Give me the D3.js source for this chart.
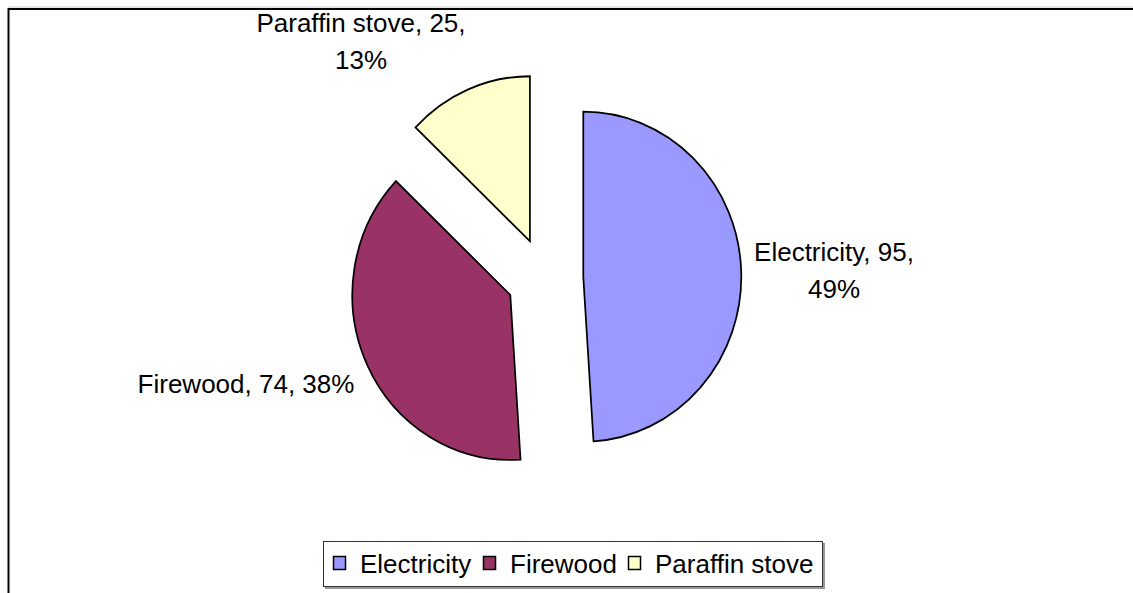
<!DOCTYPE html>
<html>
<head>
<meta charset="utf-8">
<script src="https://cdn.jsdelivr.net/npm/d3@7"></script>
<style>
  body { margin: 0; background: #fff; }
  svg text { font-family: "Liberation Sans", Arial, sans-serif; fill: #000; }
</style>
</head>
<body>
<div id="chart"></div>
<script>
// data
var categories = ["Electricity", "Firewood", "Paraffin stove"];
var values = [95, 74, 25];
var percents = ["49%", "38%", "13%"];
var colors = ["#9999FF", "#993366", "#FFFFCC"];

var width = 1133, height = 593;
var fontSize = 26;

var svg = d3.select("#chart").append("svg")
    .attr("width", width)
    .attr("height", height);

// chart frame (runs off the right and bottom edges)
svg.append("line").attr("x1", 8).attr("y1", 7).attr("x2", width).attr("y2", 7)
    .attr("stroke", "#ccc").attr("stroke-width", 1);
svg.append("rect")
    .attr("x", 8.5).attr("y", 9)
    .attr("width", width + 20).attr("height", height + 20)
    .attr("fill", "none").attr("stroke", "#000").attr("stroke-width", 2);

// pie
var cx = 545, cy = 278, r = 165, explode = 40, sx = 158 / 165;
var pie = d3.pie().sort(null).value(function (d) { return d; });
var arc = d3.arc().innerRadius(0).outerRadius(r);
var arcs = pie(values);

var g = svg.append("g")
    .attr("transform", "translate(" + cx + "," + cy + ") scale(" + sx + ",1)");

g.selectAll("path")
    .data(arcs)
    .join("path")
    .attr("transform", function (d) {
        var a = (d.startAngle + d.endAngle) / 2;
        return "translate(" + (explode * Math.sin(a)) + "," + (-explode * Math.cos(a)) + ")";
    })
    .attr("d", arc)
    .attr("fill", function (d, i) { return colors[i]; })
    .attr("stroke", "#000")
    .attr("stroke-width", 1.8)
    .attr("stroke-linejoin", "miter");

// data labels
var labels = [
    { x: 834, y: 261, split: true },
    { x: 246, y: 393, split: false },
    { x: 361, y: 32, split: true }
];
labels.forEach(function (l, i) {
    var t = svg.append("text")
        .attr("text-anchor", "middle")
        .attr("font-size", fontSize);
    if (l.split) {
        t.append("tspan").attr("x", l.x).attr("y", l.y)
            .text(categories[i] + ", " + values[i] + ",");
        t.append("tspan").attr("x", l.x).attr("y", l.y + 37)
            .text(percents[i]);
    } else {
        t.append("tspan").attr("x", l.x).attr("y", l.y)
            .text(categories[i] + ", " + values[i] + ", " + percents[i]);
    }
});

// legend
var lg = svg.append("g");
lg.append("rect").attr("x", 325).attr("y", 543).attr("width", 500).attr("height", 46)
    .attr("fill", "#999");
lg.append("rect").attr("x", 323.5).attr("y", 541.5).attr("width", 499).attr("height", 45)
    .attr("fill", "#fff").attr("stroke", "#333").attr("stroke-width", 1);

var legendX = [333, 483, 628];
lg.selectAll("rect.sw")
    .data(categories)
    .join("rect")
    .attr("class", "sw")
    .attr("x", function (d, i) { return legendX[i] + 0.5; })
    .attr("y", 556.5)
    .attr("width", 12).attr("height", 13)
    .attr("fill", function (d, i) { return colors[i]; })
    .attr("stroke", "#000").attr("stroke-width", 1.5);
lg.selectAll("text")
    .data(categories)
    .join("text")
    .attr("x", function (d, i) { return legendX[i] + 27; })
    .attr("y", 573)
    .attr("font-size", fontSize)
    .text(function (d) { return d; });
</script>
</body>
</html>
